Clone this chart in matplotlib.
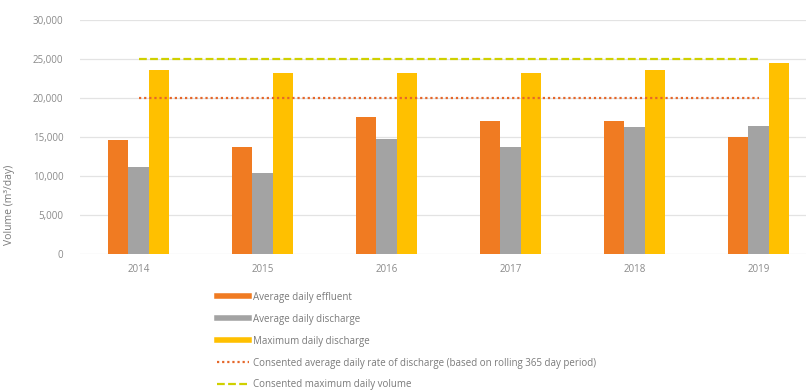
import matplotlib.pyplot as plt
import numpy as np
from matplotlib.lines import Line2D

#years on the x axis
years=['2014','2015','2016','2017','2018','2019']

#daily volumes in m3/day
avg_effluent=[14600,13700,17550,17050,17000,15000]
avg_discharge=[11200,10350,14700,13700,16300,16350]
max_discharge=[23550,23150,23150,23150,23650,24550]

#consent limits
consent_avg=20000
consent_max=25000

y_ticks=[0,5000,10000,15000,20000,25000,30000]

legend_labels=['Average daily effluent',
               'Average daily discharge',
               'Maximum daily discharge',
               'Consented average daily rate of discharge (based on rolling 365 day period)',
               'Consented maximum daily volume']

c_orange='#f07b22'
c_gray='#a3a3a3'
c_yellow='#ffc000'
c_dot='#e5672a'
c_dash='#cfd000'
c_text='#8a8a8a'

plt.rcParams['font.family']=['Open Sans','DejaVu Sans']

fig=plt.figure(figsize=(8.06,3.92),dpi=100)
ax=fig.add_axes([80/806,1-254/392,1-80/806,234/392])

x=np.arange(len(years))
w=0.164

ax.bar(x-w,avg_effluent,w,color=c_orange,zorder=3)
ax.bar(x,avg_discharge,w,color=c_gray,zorder=3)
ax.bar(x+w,max_discharge,w,color=c_yellow,zorder=3)

#consent lines across the years
ax.plot([x[0],x[-1]],[consent_avg]*2,color=c_dot,lw=1.6,
        linestyle=(0,(1,1.3)),zorder=4)
ax.plot([x[0],x[-1]],[consent_max]*2,color=c_dash,lw=1.6,
        linestyle=(0,(3.5,1.5)),zorder=4)

ax.set_xlim(-0.472,5.383)
ax.set_ylim(0,30000)
ax.set_yticks(y_ticks)
ax.set_yticklabels(['{:,}'.format(v) for v in y_ticks])
ax.set_xticks(x)
ax.set_xticklabels(years)

ax.tick_params(axis='both',length=0,labelsize=7,labelcolor=c_text)
ax.tick_params(axis='y',pad=12)
ax.tick_params(axis='x',pad=7)

ax.grid(axis='y',color='#e3e3e3',lw=0.9,zorder=0)
for s in ax.spines.values():
    s.set_visible(False)

fig.text(10/806,1-205/392,'Volume (m³/day)',rotation=90,
         ha='center',va='center',fontsize=7.5,color='#7a7a7a')

#legend below the plot
handles=[Line2D([],[],color=c_orange,lw=4),
         Line2D([],[],color=c_gray,lw=4),
         Line2D([],[],color=c_yellow,lw=4),
         Line2D([],[],color=c_dot,lw=1.6,linestyle=(0,(1,1.3))),
         Line2D([],[],color=c_dash,lw=1.6,linestyle=(0,(3.5,1.5)))]

leg=fig.legend(handles,legend_labels,loc='upper left',
               bbox_to_anchor=(212/806,1-287/392),frameon=False,
               fontsize=7,handlelength=3.3,handletextpad=0.4,
               labelspacing=1.12,borderpad=0)
for t in leg.get_texts():
    t.set_color('#7a7a7a')

plt.savefig('out.png',dpi=100)
plt.close()
